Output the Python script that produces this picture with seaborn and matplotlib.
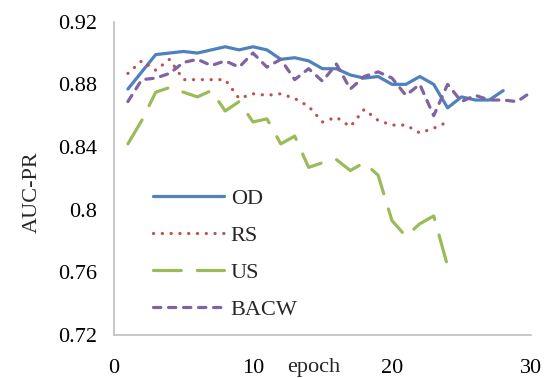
import matplotlib
matplotlib.use("Agg")
import matplotlib.pyplot as plt
import seaborn as sns
import pandas as pd

# AUC-PR per training epoch for each sampling strategy
od = [0.877, 0.888, 0.899, 0.900, 0.901, 0.900, 0.902, 0.904, 0.902, 0.904,
      0.902, 0.896, 0.897, 0.895, 0.890, 0.890, 0.886, 0.884, 0.885, 0.880,
      0.880, 0.885, 0.880, 0.865, 0.872, 0.870, 0.870, 0.876]
rs = [0.887, 0.895, 0.889, 0.896, 0.883, 0.883, 0.883, 0.883, 0.871, 0.874,
      0.873, 0.874, 0.871, 0.866, 0.856, 0.859, 0.853, 0.864, 0.857, 0.854,
      0.854, 0.849, 0.852, 0.856]
us = [0.842, 0.857, 0.875, 0.878, 0.875, 0.872, 0.876, 0.863, 0.869, 0.856,
      0.858, 0.842, 0.847, 0.827, 0.830, 0.832, 0.825, 0.830, 0.822, 0.793,
      0.783, 0.791, 0.796, 0.764]
bacw = [0.869, 0.883, 0.884, 0.887, 0.894, 0.896, 0.892, 0.895, 0.891, 0.900,
        0.891, 0.896, 0.883, 0.890, 0.882, 0.893, 0.877, 0.885, 0.888, 0.884,
        0.873, 0.880, 0.860, 0.880, 0.869, 0.873, 0.870, 0.870, 0.869, 0.875]

methods = ["OD", "RS", "US", "BACW"]
series = [od, rs, us, bacw]
x_ticks = [0, 10, 20, 30]
y_ticks = [0.72, 0.76, 0.8, 0.84, 0.88, 0.92]
y_tick_labels = ["0.72", "0.76", "0.8", "0.84", "0.88", "0.92"]

rows = []
for name, vals in zip(methods, series):
    for i, v in enumerate(vals):
        rows.append({"epoch": i + 1, "AUC-PR": v, "method": name})
df = pd.DataFrame(rows)

sns.set_style("white")
plt.rcParams["font.family"] = ["Liberation Serif", "DejaVu Serif"]

palette = {"OD": "#4F81BD", "RS": "#C0504D", "US": "#9BBB59", "BACW": "#8064A2"}
dashes = {"OD": "", "RS": (0.05, 2.7), "US": (8.7, 5.0), "BACW": (2.3, 2.4)}

fig = plt.figure(figsize=(5.5, 3.78), dpi=100)
ax = fig.add_axes([114 / 550, 1 - 335 / 378, (531 - 114) / 550, (335 - 21.7) / 378])

sns.lineplot(data=df, x="epoch", y="AUC-PR", hue="method", style="method",
             hue_order=methods, style_order=methods, palette=palette,
             dashes=dashes, estimator=None, linewidth=2.3,
             dash_capstyle="round", solid_capstyle="round", ax=ax)

ax.set_xlim(0, 30)
ax.set_ylim(0.72, 0.92)
ax.set_xticks(x_ticks)
ax.set_yticks(y_ticks)
ax.set_yticklabels(y_tick_labels)

axis_gray = "#BFBFBF"
for side in ["top", "right"]:
    ax.spines[side].set_visible(False)
for side in ["left", "bottom"]:
    ax.spines[side].set_color(axis_gray)
    ax.spines[side].set_linewidth(1.2)
ax.tick_params(axis="both", direction="out", length=5.5, width=1.2,
               color=axis_gray, labelsize=16, labelcolor="black")
ax.tick_params(axis="y", pad=7)
ax.tick_params(axis="x", pad=11.5)

ax.set_ylabel("AUC-PR", fontsize=16)
ax.yaxis.set_label_coords(-0.172, 0.455)
ax.set_xlabel("epoch", fontsize=16)
ax.xaxis.set_label_coords(0.48, -0.074)
ax.xaxis.label.set_va("top")

handles, labels = ax.get_legend_handles_labels()
leg = ax.legend(handles, labels, loc="upper left",
                bbox_to_anchor=(153 / 550, 1 - 188 / 378),
                bbox_transform=fig.transFigure, frameon=False,
                fontsize=16, handlelength=3.2, handletextpad=0.3,
                labelspacing=0.74, borderpad=0, borderaxespad=0)
for line in leg.get_lines():
    line.set_linewidth(2.3)

fig.savefig("out.png", dpi=100)
